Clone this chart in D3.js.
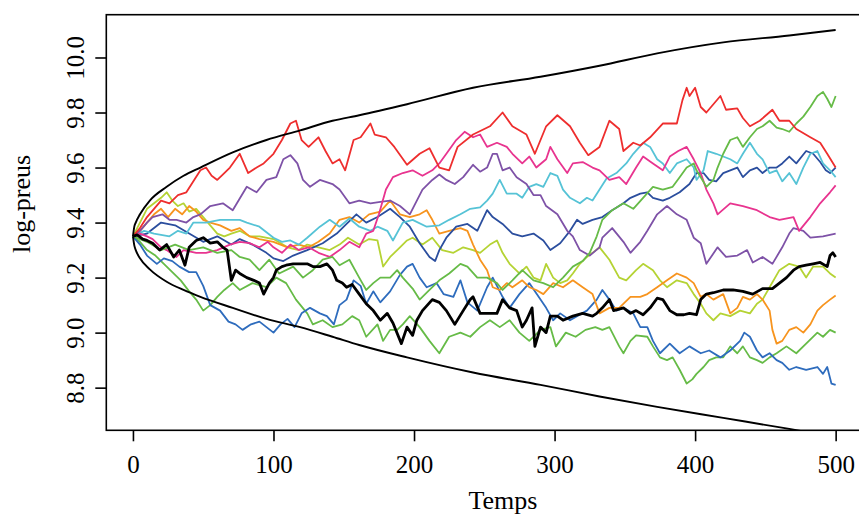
<!DOCTYPE html>
<html>
<head>
<meta charset="utf-8">
<script src="https://cdn.jsdelivr.net/npm/d3@7"></script>
<style>
  body { margin: 0; background: #fff; }
  text { font-family: "Liberation Serif", "DejaVu Serif", serif; fill: #000; }
</style>
</head>
<body>
<div id="chart"></div>
<script>
// values, [temps, log-preu]
const red = [[0,9.35],[5,9.38],[10,9.42],[15,9.45],[20,9.48],[26,9.47],[32,9.50],[38,9.51],[43,9.55],[48,9.59],[52,9.60],[56,9.57],[60,9.555],[65,9.58],[69,9.60],[76,9.65],[82,9.58],[88,9.60],[93,9.615],[100,9.65],[106,9.70],[112,9.76],[116,9.77],[120,9.70],[125,9.675],[132,9.71],[137,9.66],[142,9.615],[147,9.63],[151,9.59],[157,9.70],[162,9.71],[169,9.76],[172,9.72],[180,9.71],[186,9.675],[195,9.61],[204,9.65],[211,9.67],[218,9.60],[225,9.59],[231,9.675],[242,9.72],[254,9.75],[263,9.80],[270,9.75],[280,9.72],[286,9.65],[294,9.75],[302,9.79],[311,9.75],[318,9.69],[324,9.645],[332,9.675],[339,9.77],[346,9.74],[349,9.66],[356,9.69],[361,9.68],[368,9.71],[377,9.76],[387,9.76],[391,9.845],[394,9.89],[396,9.86],[400,9.89],[404,9.82],[408,9.80],[418,9.86],[422,9.81],[430,9.815],[434,9.78],[439,9.75],[446,9.77],[455,9.81],[460,9.77],[467,9.77],[472,9.74],[482,9.71],[489,9.69],[494,9.65],[500,9.60]];
const pink = [[0,9.35],[5,9.36],[10,9.35],[14,9.34],[20,9.31],[24,9.30],[31,9.275],[36,9.30],[45,9.29],[52,9.29],[60,9.30],[69,9.32],[76,9.33],[83,9.325],[90,9.31],[96,9.33],[100,9.31],[106,9.29],[112,9.32],[118,9.30],[125,9.31],[132,9.29],[140,9.275],[147,9.30],[154,9.33],[161,9.31],[166,9.36],[171,9.37],[175,9.43],[180,9.52],[185,9.565],[192,9.58],[199,9.59],[206,9.57],[213,9.59],[218,9.615],[223,9.65],[230,9.70],[236,9.73],[242,9.71],[247,9.72],[252,9.675],[259,9.69],[266,9.675],[270,9.65],[277,9.615],[282,9.64],[287,9.60],[294,9.63],[297,9.675],[302,9.63],[309,9.58],[313,9.615],[320,9.62],[327,9.60],[332,9.59],[339,9.555],[346,9.565],[351,9.54],[358,9.60],[363,9.64],[370,9.615],[377,9.59],[382,9.64],[388,9.66],[394,9.675],[399,9.63],[404,9.58],[408,9.52],[413,9.47],[416,9.43],[425,9.47],[434,9.46],[444,9.445],[453,9.42],[460,9.41],[470,9.42],[474,9.37],[482,9.42],[489,9.47],[496,9.51],[500,9.535]];
const purple = [[0,9.35],[5,9.37],[10,9.40],[14,9.42],[21,9.43],[26,9.41],[31,9.41],[38,9.40],[43,9.42],[48,9.43],[55,9.46],[64,9.47],[71,9.445],[81,9.53],[88,9.51],[95,9.555],[102,9.565],[107,9.63],[112,9.645],[117,9.615],[121,9.555],[126,9.53],[133,9.555],[142,9.54],[147,9.52],[154,9.47],[161,9.48],[169,9.47],[176,9.475],[183,9.48],[190,9.46],[197,9.43],[202,9.48],[206,9.52],[213,9.555],[218,9.575],[223,9.555],[229,9.54],[235,9.565],[242,9.61],[247,9.585],[252,9.60],[256,9.65],[259,9.65],[263,9.59],[268,9.60],[273,9.565],[280,9.54],[285,9.50],[290,9.50],[294,9.46],[302,9.43],[309,9.37],[313,9.35],[318,9.30],[325,9.28],[332,9.31],[334,9.345],[341,9.38],[349,9.33],[354,9.29],[361,9.33],[366,9.37],[373,9.43],[380,9.46],[387,9.43],[394,9.41],[399,9.345],[404,9.325],[408,9.25],[416,9.31],[422,9.275],[430,9.28],[437,9.30],[441,9.255],[448,9.275],[455,9.25],[462,9.31],[467,9.36],[470,9.38],[477,9.37],[482,9.345],[491,9.35],[500,9.36]];
const cyan = [[0,9.35],[8,9.37],[15,9.36],[26,9.35],[32,9.37],[38,9.36],[43,9.40],[52,9.40],[62,9.41],[71,9.41],[76,9.41],[81,9.40],[90,9.385],[100,9.345],[106,9.33],[112,9.335],[118,9.32],[124,9.345],[133,9.385],[140,9.41],[147,9.385],[154,9.415],[161,9.385],[169,9.37],[174,9.385],[181,9.37],[185,9.335],[192,9.40],[199,9.41],[209,9.385],[218,9.39],[225,9.41],[233,9.43],[240,9.45],[247,9.455],[252,9.48],[256,9.505],[261,9.555],[266,9.505],[273,9.505],[277,9.49],[282,9.53],[287,9.54],[292,9.53],[297,9.58],[302,9.57],[306,9.52],[311,9.49],[318,9.47],[323,9.49],[327,9.48],[332,9.52],[337,9.56],[344,9.58],[351,9.615],[356,9.65],[363,9.69],[368,9.675],[373,9.63],[377,9.615],[382,9.58],[387,9.615],[394,9.63],[399,9.60],[401,9.555],[406,9.59],[409,9.66],[415,9.65],[420,9.64],[425,9.63],[430,9.615],[434,9.65],[439,9.69],[444,9.65],[448,9.63],[453,9.58],[458,9.59],[462,9.55],[467,9.58],[472,9.54],[477,9.60],[482,9.65],[487,9.66],[491,9.615],[496,9.59],[500,9.565]];
const navy = [[0,9.35],[10,9.36],[20,9.40],[30,9.39],[40,9.36],[50,9.33],[60,9.35],[70,9.32],[76,9.34],[85,9.32],[95,9.29],[100,9.27],[107,9.26],[114,9.28],[124,9.30],[135,9.325],[145,9.36],[152,9.395],[159,9.43],[166,9.40],[174,9.42],[183,9.45],[190,9.42],[197,9.385],[204,9.325],[211,9.275],[215,9.26],[218,9.30],[223,9.345],[230,9.385],[238,9.395],[245,9.37],[252,9.445],[256,9.42],[263,9.395],[270,9.36],[277,9.35],[285,9.36],[292,9.335],[297,9.30],[304,9.325],[311,9.37],[316,9.41],[320,9.395],[327,9.41],[334,9.42],[341,9.445],[349,9.47],[354,9.49],[361,9.505],[366,9.51],[370,9.49],[377,9.48],[382,9.49],[389,9.51],[396,9.54],[401,9.58],[406,9.58],[410,9.555],[415,9.55],[420,9.58],[425,9.59],[430,9.60],[434,9.565],[439,9.59],[444,9.60],[448,9.58],[453,9.60],[458,9.60],[462,9.615],[467,9.64],[472,9.615],[479,9.66],[484,9.65],[489,9.62],[493,9.59],[496,9.58],[500,9.60]];
const blue = [[0,9.35],[5,9.32],[10,9.28],[17,9.25],[22,9.27],[28,9.26],[33,9.24],[40,9.22],[45,9.22],[50,9.17],[55,9.10],[62,9.08],[68,9.04],[73,9.03],[78,9.01],[84,9.03],[90,9.04],[95,9.02],[100,9.00],[105,9.03],[110,9.05],[115,9.02],[120,9.07],[126,9.09],[133,9.07],[138,9.06],[143,9.03],[147,9.10],[152,9.12],[157,9.19],[162,9.17],[166,9.105],[171,9.15],[176,9.11],[183,9.15],[190,9.21],[195,9.24],[199,9.25],[204,9.20],[209,9.165],[216,9.18],[221,9.14],[228,9.13],[233,9.19],[238,9.11],[245,9.08],[252,9.165],[256,9.20],[263,9.13],[268,9.09],[275,9.14],[282,9.18],[290,9.12],[294,9.09],[299,9.045],[304,9.07],[311,9.045],[316,9.06],[323,9.08],[330,9.12],[334,9.155],[339,9.12],[344,9.08],[349,9.09],[356,9.07],[361,9.02],[366,9.02],[370,8.97],[375,8.925],[382,8.96],[389,8.925],[396,8.95],[404,8.925],[410,8.935],[418,8.91],[425,8.935],[432,8.97],[435,9.00],[439,8.985],[444,8.935],[448,8.91],[453,8.925],[458,8.90],[462,8.89],[467,8.865],[472,8.875],[479,8.865],[487,8.875],[491,8.85],[494,8.875],[497,8.815],[500,8.81]];
const green = [[0,9.35],[10,9.33],[20,9.30],[30,9.32],[40,9.30],[50,9.31],[60,9.29],[70,9.30],[76,9.275],[83,9.265],[90,9.227],[97,9.265],[104,9.215],[114,9.24],[121,9.20],[128,9.227],[135,9.265],[142,9.275],[147,9.245],[154,9.265],[161,9.20],[166,9.155],[171,9.18],[176,9.20],[183,9.20],[188,9.227],[192,9.20],[199,9.16],[204,9.12],[211,9.155],[218,9.19],[225,9.215],[233,9.25],[238,9.24],[245,9.20],[252,9.20],[259,9.18],[263,9.155],[270,9.19],[277,9.227],[285,9.19],[292,9.18],[299,9.165],[306,9.20],[313,9.24],[320,9.26],[325,9.29],[330,9.35],[334,9.41],[341,9.445],[349,9.47],[356,9.45],[363,9.49],[370,9.53],[377,9.52],[384,9.53],[389,9.565],[394,9.60],[399,9.615],[401,9.59],[404,9.565],[408,9.53],[413,9.555],[416,9.60],[420,9.65],[425,9.70],[430,9.71],[434,9.675],[439,9.71],[444,9.74],[448,9.75],[453,9.77],[458,9.745],[462,9.74],[467,9.73],[472,9.76],[477,9.785],[482,9.82],[487,9.86],[491,9.875],[494,9.85],[497,9.82],[500,9.86]];
const green2 = [[0,9.35],[5,9.33],[10,9.30],[16,9.28],[22,9.25],[28,9.22],[34,9.19],[40,9.15],[45,9.12],[50,9.08],[55,9.10],[60,9.13],[65,9.155],[71,9.18],[76,9.155],[85,9.18],[95,9.165],[102,9.20],[109,9.18],[116,9.12],[124,9.07],[128,9.03],[135,9.045],[142,9.02],[149,9.03],[156,9.06],[161,9.045],[166,8.985],[174,9.03],[178,8.97],[183,9.01],[188,9.01],[192,9.03],[197,9.06],[204,9.02],[211,8.97],[218,8.925],[225,8.985],[233,9.00],[240,8.985],[247,9.02],[254,9.045],[261,9.02],[268,9.045],[275,9.00],[282,8.97],[290,9.01],[297,9.02],[301,8.95],[308,9.00],[315,8.985],[322,9.01],[329,9.02],[334,9.01],[339,9.02],[346,8.95],[349,8.925],[354,8.97],[358,8.99],[366,8.985],[370,8.95],[375,8.91],[380,8.90],[384,8.91],[389,8.865],[394,8.815],[398,8.83],[401,8.85],[406,8.875],[410,8.90],[415,8.91],[420,8.91],[425,8.95],[430,8.925],[434,8.95],[439,8.91],[444,8.90],[448,8.89],[453,8.91],[458,8.925],[465,8.95],[472,8.925],[479,8.96],[487,9.00],[491,8.985],[496,9.01],[500,9.00]];
const lime = [[0,9.35],[5,9.40],[10,9.45],[15,9.47],[20,9.49],[24,9.51],[28,9.48],[32,9.46],[36,9.47],[40,9.44],[45,9.45],[50,9.42],[55,9.39],[60,9.36],[65,9.35],[70,9.36],[76,9.37],[83,9.35],[90,9.35],[100,9.34],[110,9.31],[118,9.30],[124,9.32],[132,9.31],[140,9.30],[147,9.32],[153,9.345],[161,9.32],[168,9.34],[174,9.335],[178,9.24],[183,9.275],[190,9.31],[195,9.335],[199,9.345],[206,9.32],[213,9.345],[220,9.30],[228,9.29],[235,9.31],[242,9.30],[247,9.29],[254,9.32],[259,9.335],[263,9.29],[268,9.25],[275,9.215],[280,9.24],[285,9.20],[290,9.19],[294,9.25],[299,9.20],[304,9.18],[309,9.19],[313,9.215],[318,9.25],[323,9.275],[327,9.29],[332,9.31],[339,9.265],[346,9.20],[351,9.19],[358,9.227],[363,9.25],[370,9.227],[375,9.19],[380,9.165],[387,9.19],[394,9.18],[399,9.14],[404,9.105],[408,9.07],[413,9.045],[418,9.07],[425,9.06],[432,9.08],[439,9.07],[444,9.105],[448,9.12],[453,9.165],[460,9.227],[467,9.25],[474,9.24],[479,9.20],[484,9.24],[491,9.24],[496,9.215],[500,9.20]];
const orange = [[0,9.35],[5,9.37],[10,9.40],[15,9.43],[20,9.45],[25,9.42],[30,9.45],[35,9.43],[40,9.46],[45,9.44],[50,9.41],[55,9.40],[62,9.39],[70,9.37],[76,9.38],[83,9.35],[90,9.34],[100,9.33],[110,9.31],[118,9.32],[125,9.31],[132,9.33],[140,9.36],[147,9.41],[154,9.42],[161,9.40],[168,9.43],[176,9.44],[183,9.48],[190,9.43],[197,9.42],[204,9.43],[209,9.445],[213,9.41],[218,9.36],[225,9.37],[233,9.38],[238,9.37],[242,9.32],[247,9.265],[252,9.227],[256,9.165],[261,9.155],[266,9.18],[270,9.165],[277,9.19],[282,9.165],[287,9.155],[292,9.14],[299,9.18],[306,9.165],[313,9.19],[320,9.165],[327,9.14],[332,9.07],[339,9.09],[346,9.09],[354,9.13],[361,9.13],[366,9.14],[373,9.165],[380,9.19],[387,9.215],[394,9.20],[399,9.18],[404,9.13],[408,9.14],[413,9.12],[420,9.14],[425,9.07],[430,9.09],[434,9.13],[439,9.12],[444,9.14],[448,9.12],[453,9.08],[455,9.01],[458,8.96],[462,8.97],[467,9.01],[472,9.02],[477,9.00],[482,9.03],[487,9.08],[491,9.10],[496,9.12],[500,9.135]];
const black = [[0,9.35],[3,9.355],[7,9.34],[10,9.335],[14,9.325],[19,9.30],[24,9.32],[29,9.275],[33,9.30],[37,9.245],[40,9.31],[45,9.335],[50,9.345],[55,9.325],[60,9.33],[64,9.31],[67,9.30],[70,9.19],[73,9.227],[76,9.215],[81,9.20],[86,9.19],[90,9.18],[93,9.14],[97,9.18],[100,9.20],[102,9.227],[106,9.24],[109,9.245],[114,9.25],[119,9.25],[124,9.25],[128,9.24],[133,9.24],[138,9.25],[142,9.227],[145,9.19],[149,9.18],[152,9.165],[156,9.175],[161,9.14],[166,9.105],[171,9.08],[176,9.045],[181,9.07],[185,9.035],[191,8.96],[195,9.02],[199,8.99],[202,9.045],[206,9.08],[213,9.12],[218,9.11],[223,9.08],[229,9.03],[235,9.08],[240,9.12],[242,9.13],[247,9.07],[252,9.07],[259,9.07],[263,9.12],[268,9.09],[273,9.08],[277,9.02],[280,9.045],[284,9.09],[286,8.95],[290,9.02],[294,9.00],[297,9.06],[302,9.06],[306,9.045],[313,9.06],[320,9.07],[327,9.06],[330,9.07],[334,9.09],[339,9.12],[342,9.08],[349,9.09],[354,9.07],[358,9.08],[363,9.065],[368,9.09],[373,9.125],[377,9.12],[382,9.08],[387,9.065],[392,9.065],[396,9.07],[401,9.065],[404,9.12],[408,9.14],[413,9.145],[420,9.155],[427,9.155],[434,9.15],[441,9.14],[448,9.16],[455,9.16],[460,9.18],[465,9.20],[470,9.227],[474,9.24],[479,9.245],[484,9.25],[489,9.255],[494,9.24],[496,9.28],[498,9.29],[500,9.275]];

// envelope curves
const envT  = [0, 1, 2, 5, 12, 24, 36, 48, 71, 95, 119, 142, 161, 195, 242, 290, 332, 373, 420, 467, 500];
const envUp = [9.35, 9.386, 9.40, 9.43, 9.48, 9.53, 9.57, 9.60, 9.655, 9.70, 9.735, 9.77, 9.79, 9.83, 9.89, 9.93, 9.97, 10.015, 10.055, 10.08, 10.10];
const envLo = [9.35, 9.316, 9.30, 9.27, 9.23, 9.185, 9.155, 9.13, 9.09, 9.05, 9.02, 8.985, 8.955, 8.91, 8.855, 8.81, 8.768, 8.73, 8.69, 8.65, 8.62];

const xTicks = [0, 100, 200, 300, 400, 500];
const yTicks = [8.8, 9.0, 9.2, 9.4, 9.6, 9.8, 10.0];

const series = [
  {pts: green2, color: '#66bb47'},
  {pts: blue,   color: '#2e6cbd'},
  {pts: lime,   color: '#b5d334'},
  {pts: orange, color: '#f7941e'},
  {pts: navy,   color: '#2b4e9e'},
  {pts: cyan,   color: '#56c3d6'},
  {pts: purple, color: '#7e52a7'},
  {pts: pink,   color: '#e8348f'},
  {pts: green,  color: '#66bb47'},
  {pts: red,    color: '#ee2e2e'}
];

const width = 859, height = 516;
const svg = d3.select('#chart').append('svg')
  .attr('width', width).attr('height', height);

const x = d3.scaleLinear().domain([-18.96, 519.96]).range([106.3, 863.7]);
const y = d3.scaleLinear().domain([8.645, 10.1555]).range([430.3, 14.7]);

svg.append('clipPath').attr('id', 'plot')
  .append('rect')
  .attr('x', x.range()[0]).attr('y', y.range()[1])
  .attr('width', x.range()[1] - x.range()[0])
  .attr('height', y.range()[0] - y.range()[1]);

const g = svg.append('g').attr('clip-path', 'url(#plot)');

const line = d3.line().x(d => x(d[0])).y(d => y(d[1]));

g.selectAll('.walk')
  .data(series)
  .enter().append('path')
  .attr('class', 'walk')
  .attr('d', d => line(d.pts))
  .attr('fill', 'none')
  .attr('stroke', d => d.color)
  .attr('stroke-width', 1.8)
  .attr('stroke-linejoin', 'round');

g.append('path')
  .attr('d', line(black))
  .attr('fill', 'none')
  .attr('stroke', '#000')
  .attr('stroke-width', 2.8)
  .attr('stroke-linejoin', 'round');

const env = d3.line().x(d => x(d[0])).y(d => y(d[1])).curve(d3.curveMonotoneX);
[envUp, envLo].forEach(vals => {
  g.append('path')
    .attr('d', env(envT.map((t, i) => [t, vals[i]])))
    .attr('fill', 'none')
    .attr('stroke', '#000')
    .attr('stroke-width', 1.9);
});

// frame
svg.append('rect')
  .attr('x', x.range()[0]).attr('y', y.range()[1])
  .attr('width', x.range()[1] - x.range()[0])
  .attr('height', y.range()[0] - y.range()[1])
  .attr('fill', 'none').attr('stroke', '#000').attr('stroke-width', 1.6);

// axes
const xAxis = d3.axisBottom(x).tickValues(xTicks).tickSize(11).tickFormat(d3.format('d'));
const gx = svg.append('g').attr('transform', `translate(0,${y.range()[0]})`).call(xAxis);
gx.select('.domain').remove();
gx.selectAll('.tick text').attr('y', 43).attr('dy', null);

const yAxis = d3.axisLeft(y).tickValues(yTicks).tickSize(11).tickFormat(d3.format('.1f'));
const gy = svg.append('g').attr('transform', `translate(${x.range()[0]},0)`).call(yAxis);
gy.select('.domain').remove();
gy.selectAll('.tick text')
  .attr('x', null).attr('dy', null)
  .attr('text-anchor', 'middle')
  .attr('transform', 'translate(-22,0) rotate(-90)');

svg.selectAll('.tick line').attr('stroke', '#000').attr('stroke-width', 1.6);
svg.selectAll('.tick text')
  .style('font-family', '"Liberation Serif", serif')
  .style('font-size', '25px').attr('fill', '#000');

svg.append('text')
  .attr('x', 503).attr('y', 509)
  .attr('text-anchor', 'middle').style('font-size', '26px')
  .text('Temps');

svg.append('text')
  .attr('transform', 'translate(30,204) rotate(-90)')
  .attr('text-anchor', 'middle').style('font-size', '26px')
  .text('log-preus');
</script>
</body>
</html>
